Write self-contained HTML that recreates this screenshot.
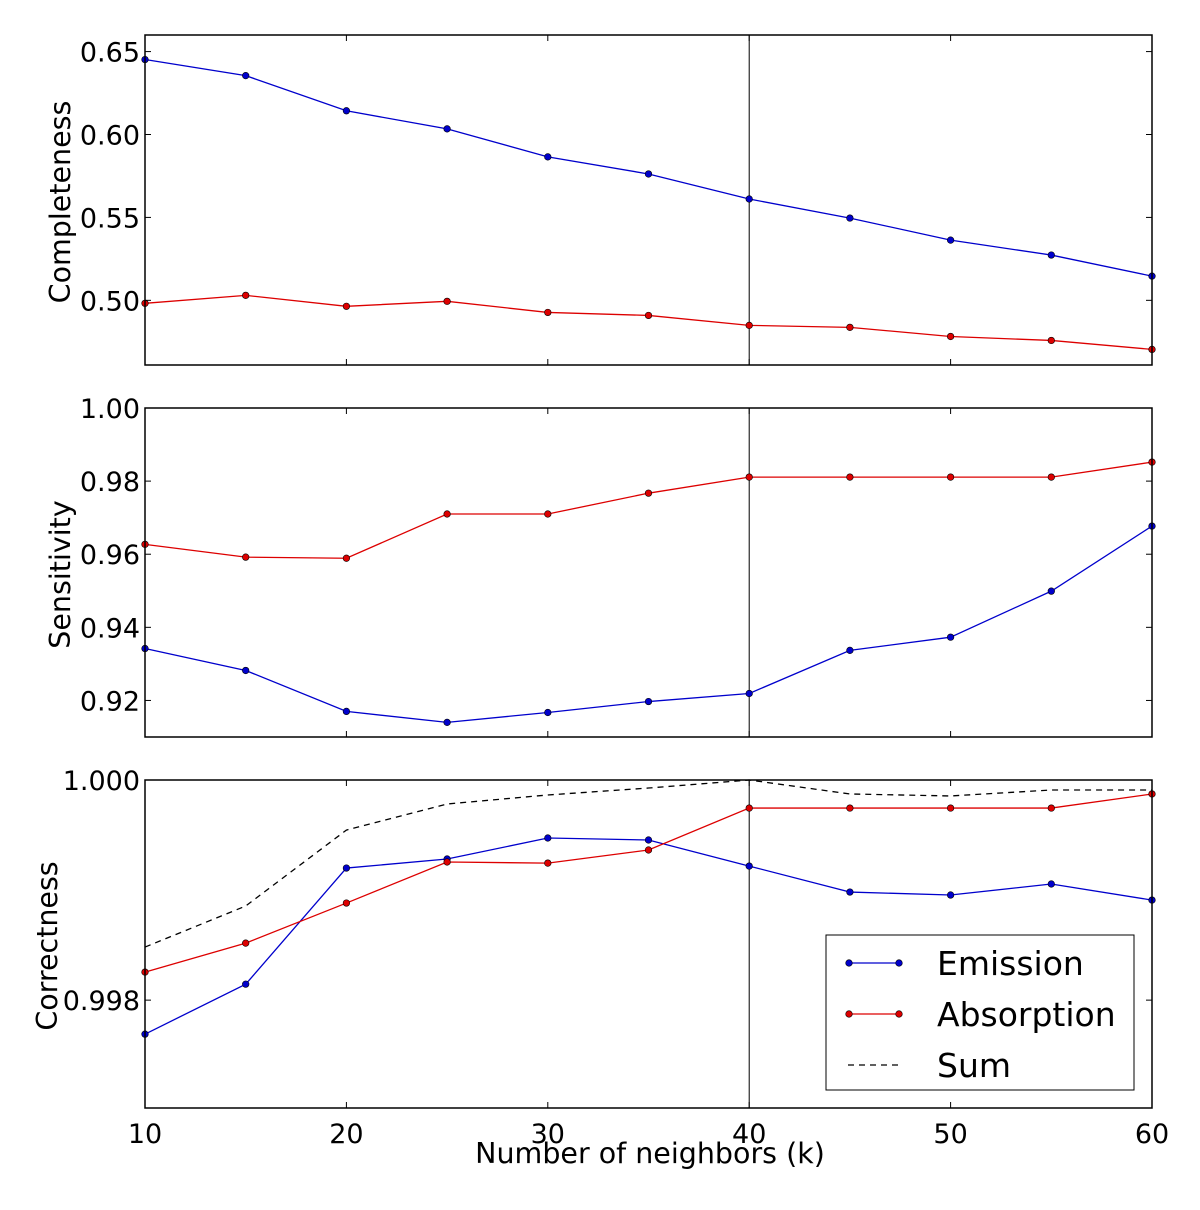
<!DOCTYPE html>
<html><head><meta charset="utf-8">
<style>body{margin:0;background:#fff}svg text{font-family:"DejaVu Sans","Liberation Sans",sans-serif;fill:#000}</style>
</head><body>
<svg id="c" width="1200" height="1205" xmlns="http://www.w3.org/2000/svg"></svg>
<script>
const ks=[10,15,20,25,30,35,40,45,50,55,60];
const compEmission=[0.6452,0.6355,0.6143,0.6034,0.5865,0.5762,0.5611,0.5496,0.5363,0.5273,0.5146];
const compAbsorption=[0.4982,0.5030,0.4964,0.4994,0.4927,0.4909,0.4849,0.4837,0.4782,0.4758,0.4704];
const sensEmission=[0.9342,0.9282,0.9170,0.9140,0.9167,0.9197,0.9219,0.9337,0.9373,0.9499,0.9677];
const sensAbsorption=[0.9627,0.9592,0.9589,0.9710,0.9710,0.9767,0.9811,0.9811,0.9811,0.9811,0.9852];
const corrEmission=[0.997691,0.998145,0.999200,0.999282,0.999473,0.999455,0.999218,0.998982,0.998955,0.999055,0.998909];
const corrAbsorption=[0.998255,0.998518,0.998882,0.999255,0.999245,0.999364,0.999745,0.999745,0.999745,0.999745,0.999873];
const corrSum=[0.998482,0.998855,0.999545,0.999782,0.999864,0.999927,1.0,0.999873,0.999855,0.999909,0.999909];
const xTicks=[10,20,30,40,50,60];
const compTicks=[0.50,0.55,0.60,0.65];
const sensTicks=[0.92,0.94,0.96,0.98,1.00];
const corrTicks=[0.998,1.000];
const svg=document.getElementById('c');const NS='http://www.w3.org/2000/svg';
function mk(t,a,p){const e=document.createElementNS(NS,t);for(const k in a)e.setAttribute(k,a[k]);(p||svg).appendChild(e);return e;}
const X0=145,X1=1152;const sx=k=>X0+(k-10)/50*(X1-X0);
const panels=[
 {name:'completeness',top:35,bot:365,min:0.461,max:0.660,ticks:compTicks,fmt:v=>v.toFixed(2),label:'Completeness',series:[[compEmission,'#0000cc','emission'],[compAbsorption,'#dd0000','absorption']]},
 {name:'sensitivity',top:408,bot:737,min:0.910,max:1.0,ticks:sensTicks,fmt:v=>v.toFixed(2),label:'Sensitivity',series:[[sensEmission,'#0000cc','emission'],[sensAbsorption,'#dd0000','absorption']]},
 {name:'correctness',top:780,bot:1108,min:0.99702,max:1.0,ticks:corrTicks,fmt:v=>v.toFixed(3),label:'Correctness',series:[[corrSum,'#000','sum',true],[corrEmission,'#0000cc','emission'],[corrAbsorption,'#dd0000','absorption']]}
];
panels.forEach((p,pi)=>{
 const g=mk('g',{});
 
 
 const sy=v=>p.bot-(v-p.min)/(p.max-p.min)*(p.bot-p.top);
 const vl=mk('line',{x1:sx(40),x2:sx(40),y1:p.top,y2:p.bot,stroke:'#000','stroke-width':1},g);
 
 
 p.series.forEach(s=>{
  const pts=ks.map((k,i)=>sx(k)+','+sy(s[0][i])).join(' ');
  const l=mk('polyline',{points:pts,fill:'none',stroke:s[1],'stroke-width':1.3,'stroke-dasharray':s[3]?'6,5':'none'},g);
  
  
  if(!s[3])ks.forEach((k,i)=>{const c=mk('circle',{cx:sx(k),cy:sy(s[0][i]),r:3.3,fill:s[1],stroke:'#000','stroke-width':0.6},g);
   
   });
 });
 const f=mk('rect',{x:X0,y:p.top,width:X1-X0,height:p.bot-p.top,fill:'none',stroke:'#000','stroke-width':1.5},g);
 
 
 xTicks.forEach(k=>{mk('line',{x1:sx(k),x2:sx(k),y1:p.bot,y2:p.bot-6,stroke:'#000'},g);mk('line',{x1:sx(k),x2:sx(k),y1:p.top,y2:p.top+6,stroke:'#000'},g);
  if(pi==2){const t=mk('text',{x:sx(k),y:p.bot+35,'font-size':27,'text-anchor':'middle'},g);t.textContent=k;
   
   }});
 p.ticks.forEach(v=>{const y=sy(v);mk('line',{x1:X0,x2:X0+6,y1:y,y2:y,stroke:'#000'},g);mk('line',{x1:X1,x2:X1-6,y1:y,y2:y,stroke:'#000'},g);
  const t=mk('text',{x:X0-5,y:y+10,'font-size':27,'text-anchor':'end'},g);t.textContent=p.fmt(v);
  
  });
 const yl=mk('text',{x:0,y:0,'font-size':28.5,'text-anchor':'middle',transform:`translate(${pi==2?57:70},${(p.top+p.bot)/2+2}) rotate(-90)`},g);yl.textContent=p.label;
 
 
});
const xt=mk('text',{x:650,y:1163,'font-size':28.5,'text-anchor':'middle'});xt.textContent='Number of neighbors (k)';


const lg=mk('g',{});


mk('rect',{x:826,y:935,width:308,height:155,fill:'#fff',stroke:'#000','stroke-width':1},lg);
[['Emission','#0000cc',963,false],['Absorption','#dd0000',1014,false],['Sum','#000',1065,true]].forEach(e=>{
 const ge=mk('g',{},lg);
 
 
 mk('line',{x1:848,x2:900,y1:e[2],y2:e[2],stroke:e[1],'stroke-width':1.3,'stroke-dasharray':e[3]?'6,5':'none'},ge);
 if(!e[3]){mk('circle',{cx:849,cy:e[2],r:3.3,fill:e[1],stroke:'#000','stroke-width':0.6},ge);mk('circle',{cx:899,cy:e[2],r:3.3,fill:e[1],stroke:'#000','stroke-width':0.6},ge);}
 const t=mk('text',{x:937,y:e[2]+12,'font-size':33},ge);t.textContent=e[0];
});
</script>
</body></html>
